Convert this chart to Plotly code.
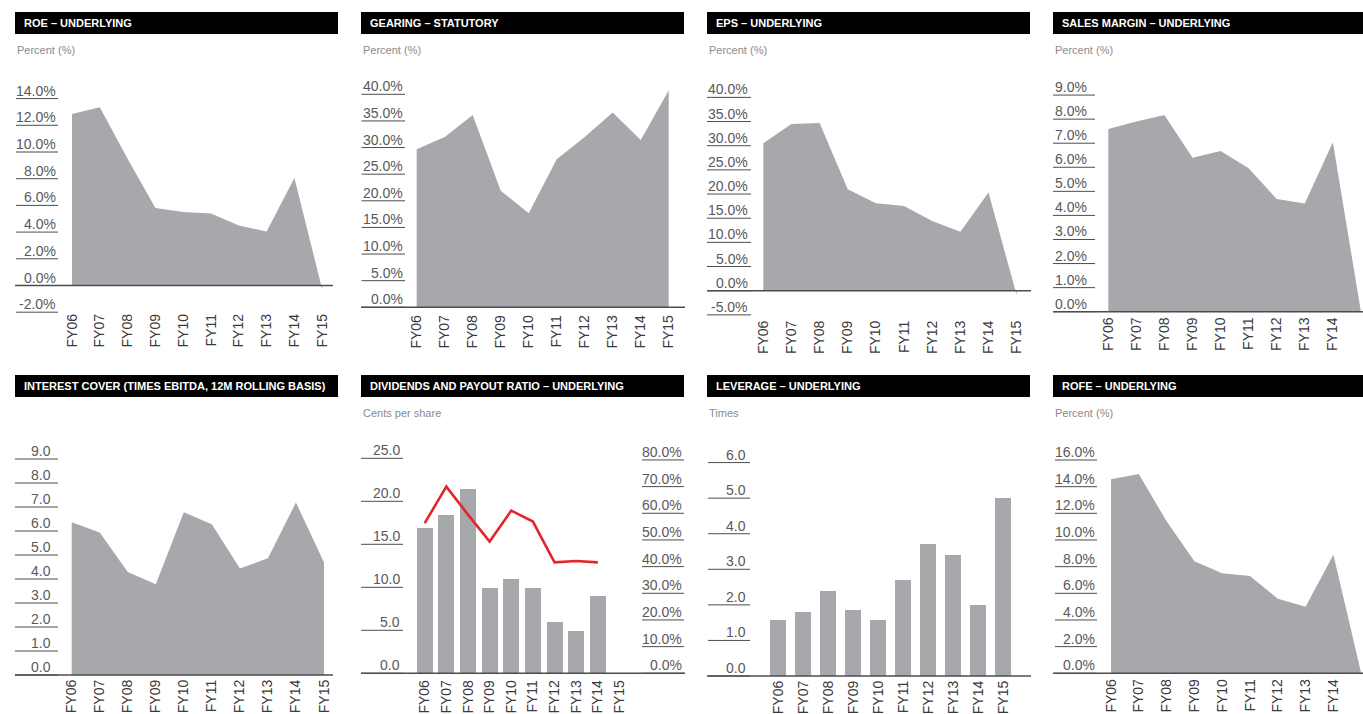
import plotly.graph_objects as go

W, H = 1363, 714

years = ["FY06", "FY07", "FY08", "FY09", "FY10", "FY11", "FY12", "FY13", "FY14", "FY15"]

roe = [12.85, 13.35, 9.5, 5.8, 5.5, 5.4, 4.5, 4.05, 8.05, -0.3]
gearing = [29.7, 32.0, 36.1, 21.9, 17.65, 27.8, 32.0, 36.6, 31.4, 40.7]
eps = [30.5, 34.5, 34.7, 21.0, 18.1, 17.5, 14.4, 12.2, 20.3, -0.9]
sales_margin = [7.59, 7.9, 8.17, 6.4, 6.68, 5.96, 4.68, 4.5, 7.04, 0.0]
interest_cover = [6.36, 5.94, 4.29, 3.78, 6.78, 6.28, 4.44, 4.86, 7.19, 4.69]
dividends = [16.9, 18.4, 21.4, 9.9, 10.97, 9.9, 5.97, 4.92, 8.99, None]
payout_ratio = [56.3, 70.0, 59.5, 49.4, 61.0, 56.9, 41.6, 42.1, 41.6, None]
leverage = [1.60, 1.80, 2.40, 1.88, 1.60, 2.70, 3.71, 3.40, 2.00, 5.01]
rofe = [14.55, 14.95, 11.4, 8.4, 7.5, 7.3, 5.6, 5.0, 8.9, 0.0]

roe_ticks = [-2, 0, 2, 4, 6, 8, 10, 12, 14]
gearing_ticks = [0, 5, 10, 15, 20, 25, 30, 35, 40]
eps_ticks = [-5, 0, 5, 10, 15, 20, 25, 30, 35, 40]
sales_ticks = [0, 1, 2, 3, 4, 5, 6, 7, 8, 9]
interest_ticks = [0, 1, 2, 3, 4, 5, 6, 7, 8, 9]
div_ticks = [0, 5, 10, 15, 20, 25]
payout_ticks = [0, 10, 20, 30, 40, 50, 60, 70, 80]
leverage_ticks = [0, 1, 2, 3, 4, 5, 6]
rofe_ticks = [0, 2, 4, 6, 8, 10, 12, 14, 16]

FILL = "#a7a8ab"
RED = "#e3262b"
AXC = "#4d4d4f"
LABC = "#58595b"
FONT = "Liberation Sans, Arial, sans-serif"


def fx(p):
    return min(max(p / W, 0.0), 1.0)


def fy(p):
    return min(max(1 - p / H, 0.0), 1.0)


panels = [
    dict(title="ROE – UNDERLYING", sub="Percent (%)", kind="area", values=roe, ticks=roe_ticks, fmt="{:.1f}%",
         col=0, row=0, xl=15, xr=333, x0=72, dx=27.8, zero=285.5, ppu=13.35, lab_r=57.5, ul=(16, 58), so=-4),
    dict(title="GEARING – STATUTORY", sub="Percent (%)", kind="area", values=gearing, ticks=gearing_ticks,
         fmt="{:.1f}%", col=1, row=0, xl=361, xr=685, x0=416.7, dx=28.0, zero=307.3, ppu=5.325, lab_r=404.5,
         ul=(361.5, 405), so=2),
    dict(title="EPS – UNDERLYING", sub="Percent (%)", kind="area", values=eps, ticks=eps_ticks, fmt="{:.1f}%",
         col=2, row=0, xl=707, xr=1031, x0=763.3, dx=28.15, zero=290.7, ppu=4.833, lab_r=750, ul=(707, 751), so=0),
    dict(title="SALES MARGIN – UNDERLYING", sub="Percent (%)", kind="area", values=sales_margin, ticks=sales_ticks,
         fmt="{:.1f}%", col=3, row=0, xl=1053, xr=1363, x0=1108.3, dx=28.07, zero=311.7, ppu=24.07, lab_r=1088.5,
         ul=(1053, 1095), so=0),
    dict(title="INTEREST COVER (TIMES EBITDA, 12M ROLLING BASIS)", sub=None, kind="area", values=interest_cover,
         ticks=interest_ticks, fmt="{:.1f}", col=0, row=1, xl=15, xr=333, x0=71.7, dx=28.03, zero=675, ppu=24.0,
         lab_r=52.5, ul=(15, 58), so=-1),
    dict(title="DIVIDENDS AND PAYOUT RATIO – UNDERLYING", sub="Cents per share", kind="divs", values=dividends,
         ticks=div_ticks, fmt="{:.1f}", col=1, row=1, xl=361, xr=685, x0=424.7, dx=21.64, zero=673.3, ppu=8.6,
         lab_r=402, ul=(361, 403), bw=16, so=1),
    dict(title="LEVERAGE – UNDERLYING", sub="Times", kind="bar", values=leverage, ticks=leverage_ticks, fmt="{:.1f}",
         col=2, row=1, xl=707, xr=1031, x0=778, dx=25.0, zero=676, ppu=35.57, lab_r=748, ul=(708, 750), bw=16, so=-1),
    dict(title="ROFE – UNDERLYING", sub="Percent (%)", kind="area", values=rofe, ticks=rofe_ticks, fmt="{:.1f}%",
         col=3, row=1, xl=1053, xr=1363, x0=1111, dx=27.8, zero=673.3, ppu=13.33, lab_r=1097, ul=(1055, 1097), so=0),
]

fig = go.Figure()
shapes = []
annotations = []
layout = {}

BAR_Y = [(12, 34), (375, 397)]
SUB_Y = [50, 413]
PAD = 2.0

for i, P in enumerate(panels, start=1):
    sfx = "" if i == 1 else str(i)
    xname, yname = "x" + sfx, "y" + sfx
    vmin, vmax = min(P["ticks"]), max(P["ticks"])
    bot_px = P["zero"] - vmin * P["ppu"] + PAD
    top_px = P["zero"] - vmax * P["ppu"] - PAD - 3
    yr = [(P["zero"] - bot_px) / P["ppu"], (P["zero"] - top_px) / P["ppu"]]
    ydom = [fy(bot_px), fy(top_px)]
    xr_px = min(P["xr"], W)
    xr = [(P["xl"] - P["x0"]) / P["dx"], (xr_px - P["x0"]) / P["dx"]]
    xdom = [fx(P["xl"]), fx(xr_px)]
    # the last label of the right-hand column would fall past the window edge
    tv = years if P["col"] < 3 else years[:-1]

    layout["xaxis" + sfx] = dict(domain=xdom, range=xr, anchor=yname, type="category",
                                 categoryorder="array", categoryarray=years, tickvals=tv,
                                 tickangle=-90, ticks="", showline=False, showgrid=False, zeroline=False,
                                 ticklabelstandoff=P["so"],
                                 tickfont=dict(family=FONT, size=14, color="#3a3a3c"), fixedrange=True)
    layout["yaxis" + sfx] = dict(domain=ydom, range=yr, anchor=xname, showticklabels=False, ticks="",
                                 showline=False, showgrid=False, zeroline=False, fixedrange=True)

    if P["kind"] == "area":
        fig.add_trace(go.Scatter(x=years, y=P["values"], mode="lines", fill="tozeroy",
                                 line=dict(width=0, color=FILL), fillcolor=FILL,
                                 xaxis=xname, yaxis=yname, showlegend=False))
    else:
        fig.add_trace(go.Bar(x=years, y=P["values"], marker=dict(color=FILL, line=dict(width=0)),
                             width=P["bw"] / P["dx"], xaxis=xname, yaxis=yname, showlegend=False))

    if P["kind"] == "divs":
        ppu_r = 2.667
        yr2 = [(P["zero"] - bot_px) / ppu_r, (P["zero"] - top_px) / ppu_r]
        layout["yaxis9"] = dict(domain=ydom, range=yr2, overlaying=yname, side="right", anchor=xname,
                                showticklabels=False, ticks="", showline=False, showgrid=False,
                                zeroline=False, fixedrange=True)
        fig.add_trace(go.Scatter(x=years, y=payout_ratio, mode="lines", line=dict(color=RED, width=2.6),
                                 xaxis=xname, yaxis="y9", showlegend=False))
        for t in payout_ticks:
            annotations.append(dict(x=fx(684), xref="paper", xanchor="right", y=t, yref="y9",
                                    yanchor="middle", yshift=8, text="{:.1f}%".format(t), showarrow=False,
                                    font=dict(family=FONT, size=14, color=LABC)))
            shapes.append(dict(type="line", xref="paper", x0=fx(642), x1=fx(684), yref="y9", y0=t, y1=t,
                               line=dict(color=AXC, width=1)))

    # y tick labels with underlines
    for t in P["ticks"]:
        annotations.append(dict(x=fx(P["lab_r"]), xref="paper", xanchor="right", y=t, yref=yname,
                                yanchor="middle", yshift=8, text=P["fmt"].format(t), showarrow=False,
                                font=dict(family=FONT, size=14, color=LABC)))
        shapes.append(dict(type="line", xref="paper", x0=fx(P["ul"][0]), x1=fx(P["ul"][1]), yref=yname,
                           y0=t, y1=t, line=dict(color=AXC, width=1)))

    # baseline at zero
    shapes.append(dict(type="line", xref=xname + " domain", x0=0, x1=1, yref=yname, y0=0, y1=0,
                       line=dict(color=AXC, width=1.5)))

    # title bar
    bx0 = 15 + 346 * P["col"]
    bx1 = 338 + 346 * P["col"]
    by0, by1 = BAR_Y[P["row"]]
    shapes.append(dict(type="rect", xref="paper", yref="paper", x0=fx(bx0), x1=fx(bx1),
                       y0=fy(by1), y1=fy(by0), fillcolor="#000000", line=dict(width=0)))
    annotations.append(dict(x=fx(bx0 + 7), xref="paper", xanchor="left", y=fy((by0 + by1) / 2),
                            yref="paper", yanchor="middle", text="<b>" + P["title"] + "</b>", showarrow=False,
                            font=dict(family=FONT, size=11, color="#ffffff")))
    if P["sub"]:
        annotations.append(dict(x=fx(bx0), xref="paper", xanchor="left", y=fy(SUB_Y[P["row"]]),
                                yref="paper", yanchor="middle", text=P["sub"], showarrow=False,
                                font=dict(family=FONT, size=11, color="#8a8a8c")))

fig.update_layout(width=W, height=H, margin=dict(l=0, r=0, t=0, b=0), paper_bgcolor="white",
                  plot_bgcolor="white", showlegend=False, shapes=shapes, annotations=annotations,
                  bargap=0, **layout)

# let the figure fill the window exactly: no default page margin
fig.write_html("out.html", config={"displayModeBar": False},
               post_script="document.body.style.margin='0';"
                           "document.getElementById('{plot_id}').style.overflow='hidden';")
